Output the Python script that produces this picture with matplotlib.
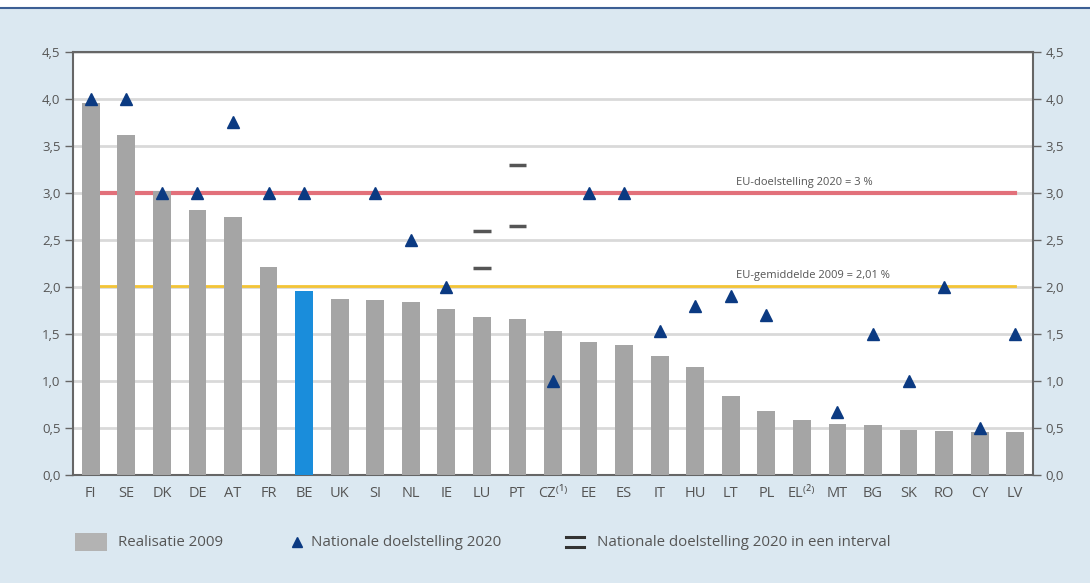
import matplotlib
matplotlib.use("Agg")
import matplotlib.pyplot as plt
from matplotlib.patches import Rectangle
from matplotlib.lines import Line2D

plt.rcParams['font.family'] = ['Open Sans', 'DejaVu Sans']

countries = ["FI", "SE", "DK", "DE", "AT", "FR", "BE", "UK", "SI", "NL", "IE", "LU", "PT",
             "CZ⁽¹⁾", "EE", "ES", "IT", "HU", "LT", "PL", "EL⁽²⁾", "MT", "BG", "SK",
             "RO", "CY", "LV"]
realisatie_2009 = [3.96, 3.62, 3.02, 2.82, 2.75, 2.21, 1.96, 1.87, 1.86, 1.84, 1.77, 1.68, 1.66,
                   1.53, 1.42, 1.38, 1.27, 1.15, 0.84, 0.68, 0.58, 0.54, 0.53, 0.48, 0.47, 0.46, 0.46]
doel_2020 = [4.0, 4.0, 3.0, 3.0, 3.76, 3.0, 3.0, None, 3.0, 2.5, 2.0, None, None,
             1.0, 3.0, 3.0, 1.53, 1.8, 1.9, 1.7, None, 0.67, 1.5, 1.0, 2.0, 0.5, 1.5]
interval_landen = ["LU", "PT"]
interval_laag = [2.2, 2.65]
interval_hoog = [2.6, 3.3]
eu_doel = 3.0
eu_gemiddelde = 2.01
y_ticks = [0.0, 0.5, 1.0, 1.5, 2.0, 2.5, 3.0, 3.5, 4.0, 4.5]

GRAY_BAR = "#a5a5a5"
BLUE_BAR = "#1a8ddb"
NAVY = "#0b3a82"
DASH = "#555555"
RED = "#e2707a"
YELLOW = "#f3c436"
TEXT = "#555555"
PANEL = "#dbe8f1"

fig = plt.figure(figsize=(10.9, 5.83), dpi=100)
fig.patch.set_facecolor("white")
fig.patches.append(Rectangle((0, 0), 1, 1 - 8 / 583, transform=fig.transFigure,
                             facecolor=PANEL, edgecolor="none", zorder=-10))
fig.add_artist(Line2D([0, 1], [1 - 8 / 583] * 2, transform=fig.transFigure,
                      color="#3d5f94", lw=1.5))

ax = fig.add_axes([73 / 1090, 108 / 583, 960 / 1090, 423 / 583])
ax.set_facecolor("white")

x = list(range(len(countries)))
colors = [BLUE_BAR if c == "BE" else GRAY_BAR for c in countries]
ax.bar(x, realisatie_2009, width=0.5, color=colors, zorder=3)

# EU reference lines
ax.plot([x[0], x[-1]], [eu_doel, eu_doel], color=RED, lw=3, zorder=2)
ax.plot([x[0], x[-1]], [eu_gemiddelde, eu_gemiddelde], color=YELLOW, lw=2, zorder=2)
ax.text(18.15, eu_doel + 0.05, "EU-doelstelling 2020 = 3 %", fontsize=8, color=TEXT,
        va="bottom", ha="left", zorder=5)
ax.text(18.15, eu_gemiddelde + 0.05, "EU-gemiddelde 2009 = 2,01 %", fontsize=8, color=TEXT,
        va="bottom", ha="left", zorder=5)

# National targets
tx = [i for i, v in enumerate(doel_2020) if v is not None]
ty = [v for v in doel_2020 if v is not None]
ax.plot(tx, ty, linestyle="none", marker="^", markersize=9, color=NAVY, zorder=4)

# Targets given as an interval
for land, lo, hi in zip(interval_landen, interval_laag, interval_hoog):
    i = countries.index(land)
    for v in (lo, hi):
        ax.plot([i - 0.25, i + 0.25], [v, v], color=DASH, lw=2.5, solid_capstyle="butt", zorder=4)

ax.set_xlim(-0.5, len(countries) - 0.5)
ax.set_ylim(0, 4.5)
ax.set_yticks(y_ticks)
ax.set_yticklabels([f"{t:.1f}".replace(".", ",") for t in y_ticks])
ax.set_xticks(x)
ax.set_xticklabels(countries)
ax.yaxis.grid(True, color="#d9d9d9", lw=2)
ax.set_axisbelow(True)
ax.tick_params(axis="y", direction="out", length=6, width=1, color="#666666",
               labelsize=9.5, labelcolor=TEXT, left=True, right=True,
               labelleft=True, labelright=True, pad=3)
ax.tick_params(axis="x", length=0, labelsize=10.5, labelcolor=TEXT, pad=8)
for s in ax.spines.values():
    s.set_color("#666666")
    s.set_linewidth(1.5)

# Legend
fig.patches.append(Rectangle((75 / 1090, 1 - 551 / 583), 32 / 1090, 18 / 583,
                             transform=fig.transFigure, facecolor="#b3b3b3", edgecolor="none"))
fig.text(118 / 1090, 1 - 542 / 583, "Realisatie 2009", fontsize=10.8, color=TEXT, va="center")
fig.add_artist(Line2D([297 / 1090], [1 - 542 / 583], transform=fig.transFigure,
                      marker="^", markersize=6.5, color=NAVY, linestyle="none"))
fig.text(311 / 1090, 1 - 542 / 583, "Nationale doelstelling 2020", fontsize=10.8, color=TEXT,
         va="center")
for yy in (537, 547):
    fig.add_artist(Line2D([566 / 1090, 584 / 1090], [1 - yy / 583] * 2,
                          transform=fig.transFigure, color="#333333", lw=2.2))
fig.text(597 / 1090, 1 - 542 / 583, "Nationale doelstelling 2020 in een interval", fontsize=10.8,
         color=TEXT, va="center")

fig.savefig("out.png", dpi=100, facecolor=fig.get_facecolor())
